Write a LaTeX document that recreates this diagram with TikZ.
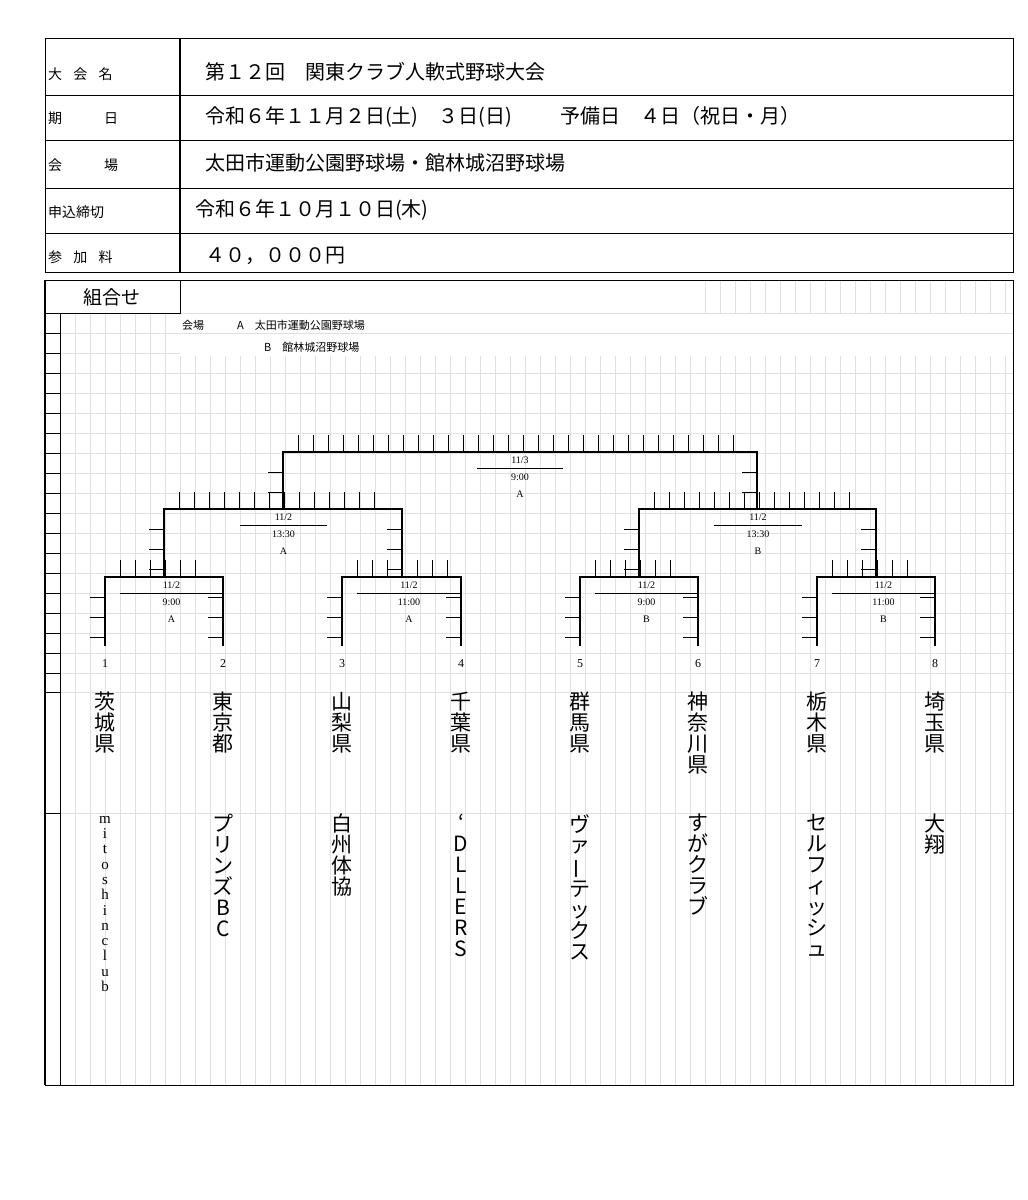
\documentclass[tikz,border=0pt]{standalone}
\usepackage{fontspec}
\setmainfont{Liberation Serif}
\newfontfamily\jp{Noto Sans CJK JP}
\begin{document}
\begin{tikzpicture}[x=1pt,y=-1pt,
  grid/.style={draw=black!12,line width=0.6pt},
  br/.style={line width=1.8pt,line cap=rect},
  tk/.style={line width=0.8pt},
  lab/.style={font=\jp\fontsize{14}{14}\selectfont,anchor=west,inner sep=0},
  val/.style={font=\jp\fontsize{20}{20}\selectfont,anchor=west,inner sep=0},
  sm/.style={font=\fontsize{10}{10}\selectfont,inner sep=0},
  vt/.style={font=\jp\fontsize{21}{21}\selectfont,align=center,anchor=north,inner sep=0},
  vl/.style={font=\fontsize{15}{15.3}\selectfont,align=center,anchor=north,inner sep=0}]
\useasboundingbox (0,0) rectangle (1028,1200);
\fill[white] (0,0) rectangle (1028,1200);
% header table
\draw[line width=1pt] (45,38) rectangle (1013,272);
\foreach \y in {95,140,188,233} \draw[line width=1pt] (45,\y) -- (1013,\y);
\draw[line width=1.4pt] (180,38) -- (180,272);
\node[lab] (l1) at (48,74) {大\hspace{0.8em}会\hspace{0.8em}名};
\node[lab] (l2) at (48,118) {期\hspace{3em}日};
\node[lab] (l3) at (48,165) {会\hspace{3em}場};
\node[lab] (l4) at (48,212) {申込締切};
\node[lab] (l5) at (48,257) {参\hspace{0.8em}加\hspace{0.8em}料};
\node[val] (v1) at (205,72) {第１２回　関東クラブ人軟式野球大会};
\node[val] (v2) at (205,117) {令和６年１１月２日(土)　３日(日)\hspace{2.4em}予備日　４日（祝日・月）};
\node[val] (v3) at (205,163) {太田市運動公園野球場・館林城沼野球場};
\node[val] (v4) at (195,210) {令和６年１０月１０日(木)};
\node[val] (v5) at (205,256) {４０，０００円};
% grid
\foreach \x in {75,90,...,1005} \draw[grid] (\x,280) -- (\x,1085);
\foreach \y in {313,333,...,680} \draw[grid] (60,\y) -- (1013,\y);
\draw[grid] (60,692) -- (1013,692);
\draw[grid] (60,813) -- (1013,813);
\fill[white] (60,281) rectangle (700,312.5);
\fill[white] (180,313.5) rectangle (1012,356);
\draw[grid] (180,333) -- (1013,333);
% frame
\draw[line width=0.8pt] (45,280) -- (1013,280) -- (1013,1085) -- (45,1085);
\draw[line width=2.2pt] (45,280) -- (45,1085);
\draw[line width=1pt] (60,313) -- (60,1085);
\foreach \y in {333,353,...,673} \draw[tk] (45,\y) -- (60,\y);
\draw[tk] (45,692) -- (60,692);
\draw[tk] (45,813) -- (60,813);
\draw[line width=1pt] (45,313) -- (180,313) -- (180,280);
\node[font=\jp\fontsize{19}{19}\selectfont] (kumi) at (112,297) {組合せ};
\node[font=\jp\fontsize{11}{11}\selectfont,anchor=west,inner sep=0] (k1) at (182,325) {会場\hspace{3em}A　太田市運動公園野球場};
\node[font=\jp\fontsize{11}{11}\selectfont,anchor=west,inner sep=0] (k2) at (264,347) {B　館林城沼野球場};
% bracket macro
\newcommand\mymatch[9]{%
  \draw[br] (#1,#4) -- (#1,#3) -- (#2,#3) -- (#2,#4);
  \pgfmathsetmacro\xa{#1+15}\pgfmathsetmacro\xb{#1+30}\pgfmathsetmacro\xe{#2-14}
  \foreach \x in {\xa,\xb,...,\xe} \draw[tk] (\x,#3-17) -- (\x,#3);
  \pgfmathsetmacro\ya{#3+20}\pgfmathsetmacro\yb{#3+40}\pgfmathsetmacro\ye{#4-2}
  \foreach \y in {\ya,\yb,...,\ye} {\draw[tk] (#1-15,\y) -- (#1,\y); \draw[tk] (#2-15,\y) -- (#2,\y);}
  \draw[tk] (#8,#3+16) -- (#9,#3+16);
  \pgfmathsetmacro\xm{(#8+#9)/2}
  \node[sm] at (\xm,#3+8) {#5};
  \node[sm] at (\xm,#3+25) {#6};
  \node[sm] at (\xm,#3+42) {#7};
}
\mymatch{105}{223}{577}{645}{11/2}{9:00}{A}{120}{223}
\mymatch{342}{461}{577}{645}{11/2}{11:00}{A}{357}{461}
\mymatch{580}{698}{577}{645}{11/2}{9:00}{B}{595}{698}
\mymatch{817}{935}{577}{645}{11/2}{11:00}{B}{832}{935}
\mymatch{164}{402}{509}{577}{11/2}{13:30}{A}{240}{327}
\mymatch{639}{876}{509}{577}{11/2}{13:30}{B}{714}{802}
\mymatch{283}{757}{452}{509}{11/3}{9:00}{A}{477}{563}
% teams
\foreach \n/\x in {1/105,2/223,3/342,4/461,5/580,6/698,7/817,8/935}
  \node[font=\fontsize{12}{12}\selectfont] (n\n) at (\x,664) {\n};
\node[vt] (p1) at (105,692) {茨\\城\\県};
\node[vt] (p2) at (223,692) {東\\京\\都};
\node[vt] (p3) at (342,692) {山\\梨\\県};
\node[vt] (p4) at (461,692) {千\\葉\\県};
\node[vt] (p5) at (580,692) {群\\馬\\県};
\node[vt] (p6) at (698,692) {神\\奈\\川\\県};
\node[vt] (p7) at (817,692) {栃\\木\\県};
\node[vt] (p8) at (935,692) {埼\\玉\\県};
\node[vl] (t1) at (105,816) {m\\i\\t\\o\\s\\h\\i\\n\\c\\l\\u\\b};
\node[vt] (t2) at (223,814) {プ\\リ\\ン\\ズ\\B\\C};
\node[vt] (t3) at (342,814) {白\\州\\体\\協};
\node[vt] (t4) at (461,814) {‘\\D\\L\\L\\E\\R\\S};
\node[vt] (t5) at (580,814) {ヴ\\ァ\\\rotatebox[origin=c]{90}{ー}\\テ\\ッ\\ク\\ス};
\node[vt] (t6) at (698,814) {す\\が\\ク\\ラ\\ブ};
\node[vt] (t7) at (817,814) {セ\\ル\\フ\\ィ\\ッ\\シ\\ュ};
\node[vt] (t8) at (935,814) {大\\翔};
\end{tikzpicture}
\end{document}
